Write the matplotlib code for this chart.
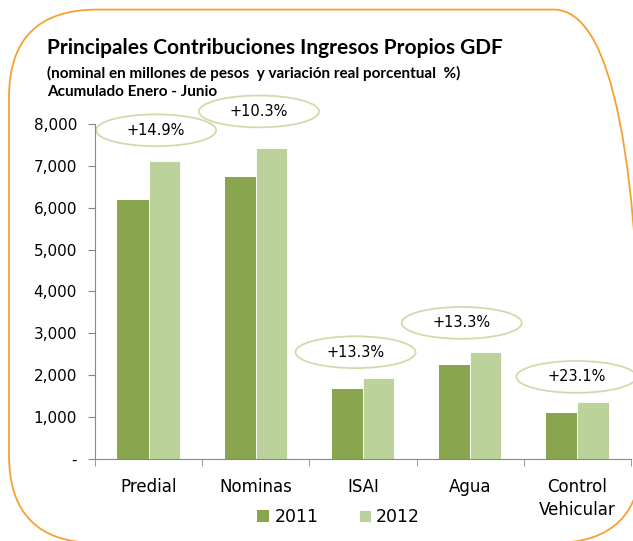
import matplotlib.pyplot as plt
from matplotlib.patches import Ellipse, FancyBboxPatch
import numpy as np

categorias = ["Predial", "Nominas", "ISAI", "Agua", "Control\nVehicular"]
v2011 = [6180, 6730, 1670, 2240, 1100]
v2012 = [7110, 7420, 1930, 2550, 1360]
variacion = ["+14.9%", "+10.3%", "+13.3%", "+13.3%", "+23.1%"]

# where the ellipse labels sit (category offset, value)
elip_dx = [0.07, 0.03, -0.07, -0.08, -0.01]
elip_y = [7850, 8300, 2550, 3250, 1960]

c2011 = "#89a54e"
c2012 = "#bcd29b"

fig = plt.figure(figsize=(6.33, 5.41), dpi=100)

# rounded orange frame
marco = FancyBboxPatch((0.0142, -0.0037), 0.9995, 0.986,
                       boxstyle="round,pad=0,rounding_size=0.139",
                       transform=fig.transFigure, fill=False, edgecolor="#f7a030", lw=1.3,
                       mutation_aspect=633 / 541)
fig.patches.append(marco)

ax = fig.add_axes([0.150, 0.1516, 0.847, 0.6192])
x = np.arange(len(categorias))
w = 0.29
ax.bar(x - w / 2, v2011, w, color=c2011, label="2011")
ax.bar(x + w / 2, v2012, w, color=c2012, label="2012", edgecolor="white", linewidth=0.6)

ax.set_ylim(0, 8000)
ax.set_xlim(-0.5, len(categorias) - 0.5)
ax.set_yticks(range(0, 8001, 1000))
ax.set_yticklabels(["-"] + [f"{v:,}" for v in range(1000, 8001, 1000)], fontsize=11)
ax.set_xticks(x)
ax.set_xticklabels(categorias, fontsize=12, linespacing=1.3)
ax.set_xticks(np.arange(-0.5, len(categorias) + 0.5), minor=True)
ax.tick_params(axis="x", which="major", length=0, pad=14)
ax.tick_params(axis="x", which="minor", length=5, color="#888888")
ax.tick_params(axis="y", length=5, color="#888888", pad=8)
for s in ["top", "right"]:
    ax.spines[s].set_visible(False)
ax.spines["left"].set_color("#888888")
ax.spines["bottom"].set_color("#888888")

for i, txt in enumerate(variacion):
    cx = x[i] + elip_dx[i]
    ax.add_patch(Ellipse((cx, elip_y[i]), 1.12, 760, fill=False, edgecolor="#cfdcaa",
                         lw=1.3, clip_on=False))
    ax.text(cx, elip_y[i], txt, ha="center", va="center", fontsize=10.5, clip_on=False)

fig.text(0.074, 0.912, "Principales Contribuciones Ingresos Propios GDF", fontsize=15,
         fontweight="bold", family="Lato", va="center")
fig.text(0.074, 0.865, "(nominal en millones de pesos  y variación real porcentual  %)",
         fontsize=11, fontweight="bold", family="Lato", va="center")
fig.text(0.074, 0.830, "Acumulado Enero - Junio", fontsize=11, fontweight="bold",
         family="Lato", va="center")

fig.legend(loc="center", bbox_to_anchor=(0.535, 0.045), ncol=2, frameon=False, fontsize=12.5,
           handlelength=0.7, handleheight=0.7, handletextpad=0.3, columnspacing=2.3)

fig.savefig("out.png", dpi=100)
